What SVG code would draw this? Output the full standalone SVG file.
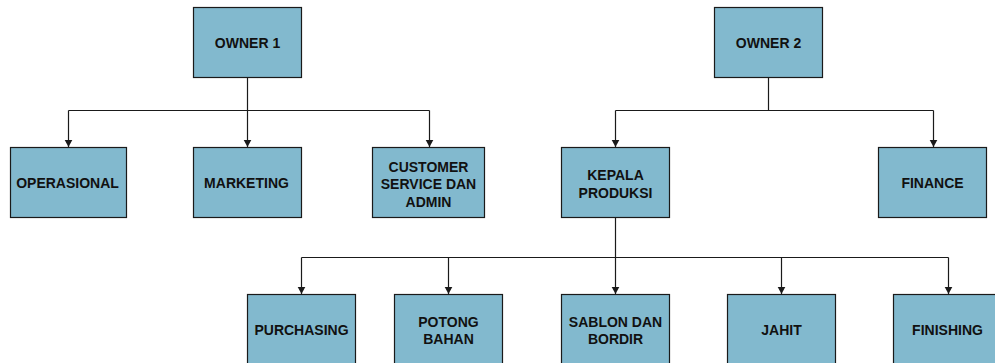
<svg xmlns="http://www.w3.org/2000/svg" width="995" height="363" viewBox="0 0 995 363">
<style>
.box{fill:#82b9ce;stroke:#1a1a1a;stroke-width:1.2}
.lbl{font-family:"Liberation Sans",Arial,sans-serif;font-weight:bold;font-size:14px;fill:#111;text-anchor:middle}
.ln{fill:none;stroke:#1a1a1a;stroke-width:1.2}
</style>
<defs>
<marker id="arr" markerUnits="userSpaceOnUse" markerWidth="10" markerHeight="10" viewBox="0 0 10 10" refX="7" refY="5" orient="auto">
<path d="M0,1.2 L7,5 L0,8.8 Z" fill="#1a1a1a"/>
</marker>
</defs>
<rect width="995" height="363" fill="#ffffff"/>
<g id="connectors">
<path class="ln" d="M247.5,77.5 V110.5"/>
<path class="ln" d="M68.5,110.5 H429.5"/>
<path class="ln" d="M68.5,110.5 V147" marker-end="url(#arr)"/>
<path class="ln" d="M247.5,110.5 V147" marker-end="url(#arr)"/>
<path class="ln" d="M429.5,110.5 V147" marker-end="url(#arr)"/>
<path class="ln" d="M768.5,77.5 V110.5"/>
<path class="ln" d="M615.5,110.5 H933.5"/>
<path class="ln" d="M615.5,110.5 V147" marker-end="url(#arr)"/>
<path class="ln" d="M933.5,110.5 V147" marker-end="url(#arr)"/>
<path class="ln" d="M615.5,217.5 V257.5"/>
<path class="ln" d="M301.5,257.5 H948.5"/>
<path class="ln" d="M301.5,257.5 V294" marker-end="url(#arr)"/>
<path class="ln" d="M448.5,257.5 V294" marker-end="url(#arr)"/>
<path class="ln" d="M615.5,257.5 V294" marker-end="url(#arr)"/>
<path class="ln" d="M781.5,257.5 V294" marker-end="url(#arr)"/>
<path class="ln" d="M948.5,257.5 V294" marker-end="url(#arr)"/>
</g>
<g id="owner1"><rect class="box" x="193.5" y="7.5" width="108" height="70"/><text class="lbl" x="247.5" y="48">OWNER 1</text></g>
<g id="owner2"><rect class="box" x="714.5" y="7.5" width="108" height="70"/><text class="lbl" x="768.5" y="48">OWNER 2</text></g>
<g id="operasional"><rect class="box" x="10.5" y="147.5" width="116" height="70"/><text class="lbl" x="67.5" y="188">OPERASIONAL</text></g>
<g id="marketing"><rect class="box" x="193.5" y="147.5" width="108" height="70"/><text class="lbl" x="246.5" y="188">MARKETING</text></g>
<g id="customer-service"><rect class="box" x="372.5" y="147.5" width="112" height="70"/><text class="lbl" x="428.5" y="171.5">CUSTOMER</text><text class="lbl" x="428.5" y="189">SERVICE DAN</text><text class="lbl" x="428.5" y="206.5">ADMIN</text></g>
<g id="kepala-produksi"><rect class="box" x="561.5" y="147.5" width="108" height="70"/><text class="lbl" x="615.5" y="179.5">KEPALA</text><text class="lbl" x="615.5" y="197.5">PRODUKSI</text></g>
<g id="finance"><rect class="box" x="878.5" y="147.5" width="108" height="70"/><text class="lbl" x="932.5" y="188">FINANCE</text></g>
<g id="purchasing"><rect class="box" x="247.5" y="294.5" width="108" height="70"/><text class="lbl" x="301.5" y="335">PURCHASING</text></g>
<g id="potong-bahan"><rect class="box" x="394.5" y="294.5" width="108" height="70"/><text class="lbl" x="448.5" y="327">POTONG</text><text class="lbl" x="448.5" y="344">BAHAN</text></g>
<g id="sablon-bordir"><rect class="box" x="561.5" y="294.5" width="108" height="70"/><text class="lbl" x="615.5" y="327">SABLON DAN</text><text class="lbl" x="615.5" y="344">BORDIR</text></g>
<g id="jahit"><rect class="box" x="727.5" y="294.5" width="108" height="70"/><text class="lbl" x="781.5" y="335">JAHIT</text></g>
<g id="finishing"><rect class="box" x="893.5" y="294.5" width="108" height="70"/><text class="lbl" x="947.5" y="335">FINISHING</text></g>
</svg>
